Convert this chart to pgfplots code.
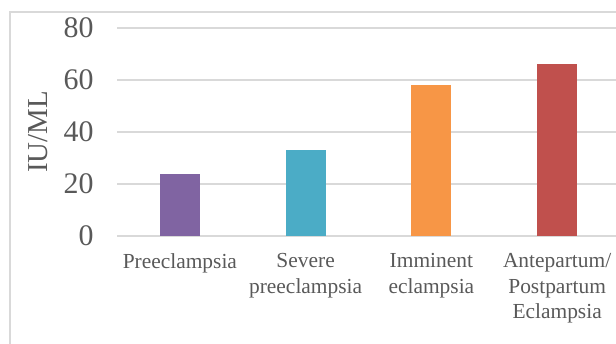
\documentclass[border=0pt]{standalone}
\usepackage{pgfplots}
\pgfplotsset{compat=1.18}
\usepackage{fontspec}
\setmainfont{Liberation Serif}
\definecolor{c1}{HTML}{8064A2}
\definecolor{c2}{HTML}{4BACC6}
\definecolor{c3}{HTML}{F79646}
\definecolor{c4}{HTML}{C0504D}
\definecolor{gridc}{HTML}{D9D9D9}
\definecolor{txt}{HTML}{595959}
\begin{document}
\begin{tikzpicture}[x=1bp,y=1bp]
\useasboundingbox (0,0) rectangle (616,343);
\draw[color=gridc, line width=1.2bp] (10,-20) -- (10,331) -- (640,331);
\begin{axis}[
  at={(117bp,107bp)}, anchor=south west,
  scale only axis, width=503bp, height=208bp,
  xmin=-0.5, xmax=3.5, ymin=0, ymax=80,
  ytick={0,20,40,60,80},
  xtick={0,1,2,3},
  xticklabels={Preeclampsia,{Severe\\preeclampsia},{Imminent\\eclampsia},{Antepartum/\\Postpartum\\Eclampsia}},
  xticklabel style={align=center, font=\fontsize{21.5}{25.5}\selectfont, text=txt, yshift=-14bp},
  yticklabel style={font=\fontsize{30}{34}\selectfont, text=txt, xshift=-20bp},
  /pgf/number format/assume math mode=true,
  ylabel={IU/ML},
  ylabel style={at={(axis description cs:-0.157,0.5)}, anchor=center, font=\fontsize{29}{33}\selectfont, text=txt},
  ymajorgrids, grid style={color=gridc, line width=1.3bp},
  axis line style={draw=none},
  major tick length=0pt,
  ybar, bar width=40bp,
  every axis plot/.append style={bar shift=0pt, draw=none},
  clip=false,
]
\addplot[fill=c1] coordinates {(0,24)};
\addplot[fill=c2] coordinates {(1,33)};
\addplot[fill=c3] coordinates {(2,58)};
\addplot[fill=c4] coordinates {(3,66)};
\end{axis}
\end{tikzpicture}
\end{document}
